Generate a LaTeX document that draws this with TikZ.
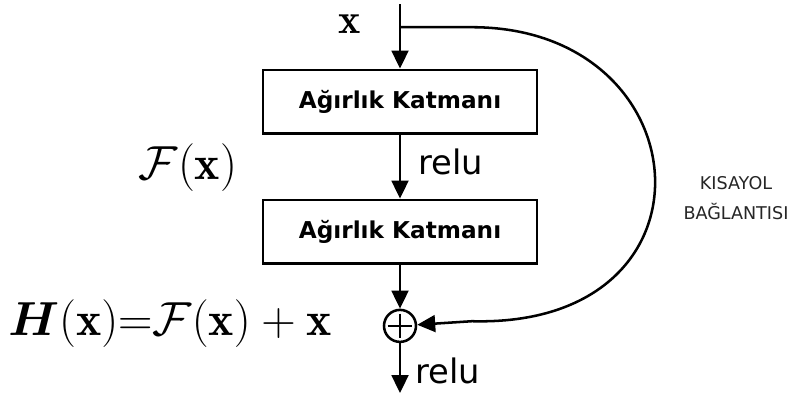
\RequirePackage{fix-cm}
\documentclass[tikz,border=0pt]{standalone}
\usepackage{amsmath,bm}
\usepackage{fontspec}
\newfontfamily\labelfont{DejaVu Sans}
\usetikzlibrary{arrows.meta,positioning}
\tikzset{
  wbox/.style={rectangle,draw,line width=2pt,minimum width=6.85cm,
               minimum height=1.58cm,font=\labelfont\bfseries\fontsize{16.5}{20}\selectfont},
  sumnode/.style={circle,draw,line width=1.8pt,minimum size=0.8cm,inner sep=0pt},
  arr/.style={-{Triangle[length=0.45cm,width=0.42cm]},line width=1.8pt},
  mathlbl/.style={font=\fontsize{34}{40}\selectfont,inner sep=0pt},
  relulbl/.style={font=\labelfont\fontsize{24}{28}\selectfont},
  notelbl/.style={font=\labelfont\fontsize{12.5}{21}\selectfont,text=black!85,align=center},
}
\begin{document}
\begin{tikzpicture}[node distance=1.6cm]
  \useasboundingbox (0,0) rectangle (19.8,-9.8);
  \coordinate (top) at (10,-0.1);
  \coordinate (split) at (10,-0.68);

  % --- main column ---
  \node[wbox] (layer1) at (10,-2.54) {Ağırlık Katmanı};
  \node[wbox, below=1.6cm of layer1] (layer2) {Ağırlık Katmanı};
  \node[sumnode, below=1.1cm of layer2] (sum) {};
  \coordinate[below=1.68cm of sum.center] (out);

  \draw[line width=1.6pt] ([yshift=-3.5pt]sum.north) -- ([yshift=3.5pt]sum.south);
  \draw[line width=1.6pt] ([xshift=3.5pt]sum.west) -- ([xshift=-3.5pt]sum.east);

  \draw[arr] (top) -- (layer1);
  \draw[arr] (layer1) -- node[relulbl, right, xshift=9pt, yshift=3pt] (relu1) {relu} (layer2);
  \draw[arr] (layer2) -- (sum);
  \draw[arr] (sum) -- node[relulbl, right, pos=0.55, xshift=8pt, inner sep=2pt] (relu2) {relu} (out);

  % --- shortcut ---
  \draw[arr] (split) -- (11.8,-0.68)
    .. controls (17.6,-0.68) and (18.2,-8.2) .. (11.8,-8.03) -- (sum);
  \node[notelbl] (short) at (18.4,-4.95) {KISAYOL\\BAĞLANTISI};

  % --- labels ---
  \node[mathlbl, font=\fontsize{30}{36}\selectfont] (xin) at (8.75,-0.6) {$\mathbf{x}$};
  \node[mathlbl] (fx) at (4.7,-4.18) {$\mathcal{F}(\mathbf{x})$};
  \node[mathlbl] (hx) at (4.25,-8.1) {$\bm{H}(\mathbf{x}){=}\mathcal{F}(\mathbf{x})+\mathbf{x}$};
\end{tikzpicture}
\end{document}
